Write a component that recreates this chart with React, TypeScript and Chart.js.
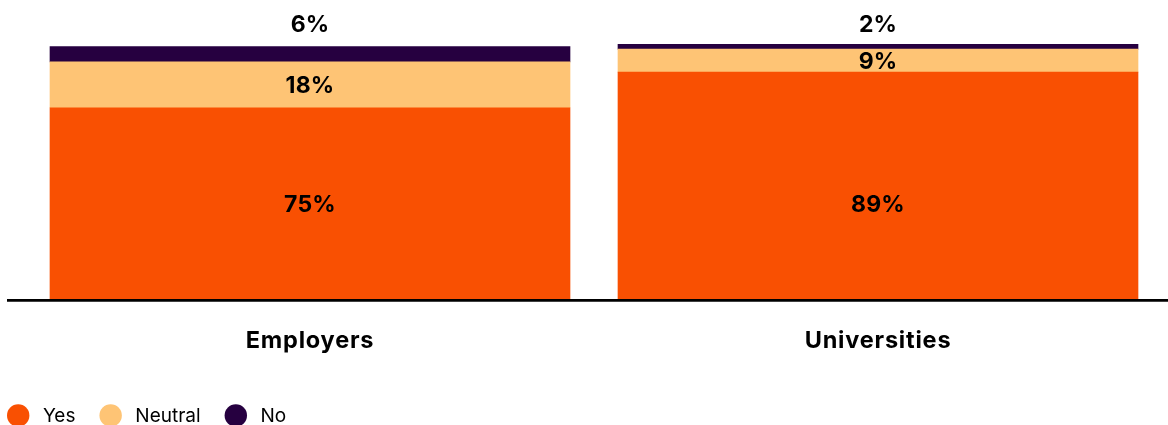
import React, { useEffect, useRef } from "react";
import { Chart, registerables } from "chart.js";

Chart.register(...registerables);

const categories = ["Employers", "Universities"];
const yesValues = [75, 89];
const neutralValues = [18, 9];
const noValues = [6, 2];
const seriesNames = ["Yes", "Neutral", "No"];
const seriesColors = ["#F95002", "#FEC475", "#260040"];

const FONT = "Inter, 'Noto Sans', sans-serif";

export default function App() {
  const ref = useRef<HTMLCanvasElement>(null);

  useEffect(() => {
    document.body.style.margin = "0";
    const canvas = ref.current;
    if (!canvas) return;

    const overlay = {
      id: "overlay",
      afterDatasetsDraw(chart: any) {
        const { ctx, chartArea, scales } = chart;
        const xs = scales.x;
        const ys = scales.y;
        ctx.save();

        // baseline axis line
        ctx.strokeStyle = "#000";
        ctx.lineWidth = 2.7;
        ctx.beginPath();
        ctx.moveTo(7, chartArea.bottom + 1.35);
        ctx.lineTo(chart.width, chartArea.bottom + 1.35);
        ctx.stroke();

        // value labels
        ctx.fillStyle = "#000";
        ctx.textAlign = "center";
        ctx.textBaseline = "alphabetic";
        ctx.font = `bold 23px ${FONT}`;
        (ctx as any).letterSpacing = "0.2px";
        chart.data.datasets.forEach((ds: any, di: number) => {
          const meta = chart.getDatasetMeta(di);
          meta.data.forEach((bar: any, i: number) => {
            const v = ds.data[i];
            let cy: number;
            if (di === 2) cy = ys.getPixelForValue(100) - 20.7;
            else if (di === 0) cy = ys.getPixelForValue(37.5);
            else cy = (bar.y + bar.base) / 2;
            ctx.fillText(v + "%", bar.x, cy + 8.5);
          });
        });

        // category labels
        ctx.font = `bold 23.5px ${FONT}`;
        (ctx as any).letterSpacing = "0.8px";
        categories.forEach((c, i) => {
          ctx.fillText(c, xs.getPixelForValue(i), chartArea.bottom + 49.3);
        });

        // legend
        ctx.font = `19px ${FONT}`;
        (ctx as any).letterSpacing = "0px";
        ctx.textAlign = "left";
        const cyL = chartArea.bottom + 116.5;
        let x0 = 7;
        const r = 11.2;
        seriesNames.forEach((name, i) => {
          ctx.fillStyle = seriesColors[i];
          ctx.beginPath();
          ctx.arc(x0 + r, cyL, r, 0, Math.PI * 2);
          ctx.fill();
          ctx.fillStyle = "#000";
          const tx = x0 + 2 * r + 13.5;
          ctx.fillText(name, tx, cyL + 6.8);
          x0 = tx + ctx.measureText(name).width + 24;
        });

        ctx.restore();
      },
    };

    const chart = new Chart(canvas, {
      type: "bar",
      data: {
        labels: categories,
        datasets: [
          { label: seriesNames[0], data: yesValues, backgroundColor: seriesColors[0] },
          { label: seriesNames[1], data: neutralValues, backgroundColor: seriesColors[1] },
          { label: seriesNames[2], data: noValues, backgroundColor: seriesColors[2] },
        ],
      },
      options: {
        animation: false,
        responsive: false,
        layout: { padding: { left: 26, right: 6, top: 44, bottom: 126 } },
        datasets: { bar: { barThickness: 520, borderWidth: 0 } } as any,
        scales: {
          x: { display: false, stacked: true, grid: { display: false } },
          y: { display: false, stacked: true, min: 0, max: 100, grid: { display: false } },
        },
        plugins: {
          legend: { display: false },
          tooltip: { enabled: false },
        },
      },
      plugins: [overlay],
    });

    return () => chart.destroy();
  }, []);

  return (
    <div style={{ width: 1168, height: 425, overflow: "hidden" }}>
      <canvas ref={ref} width={1168} height={425} />
    </div>
  );
}
